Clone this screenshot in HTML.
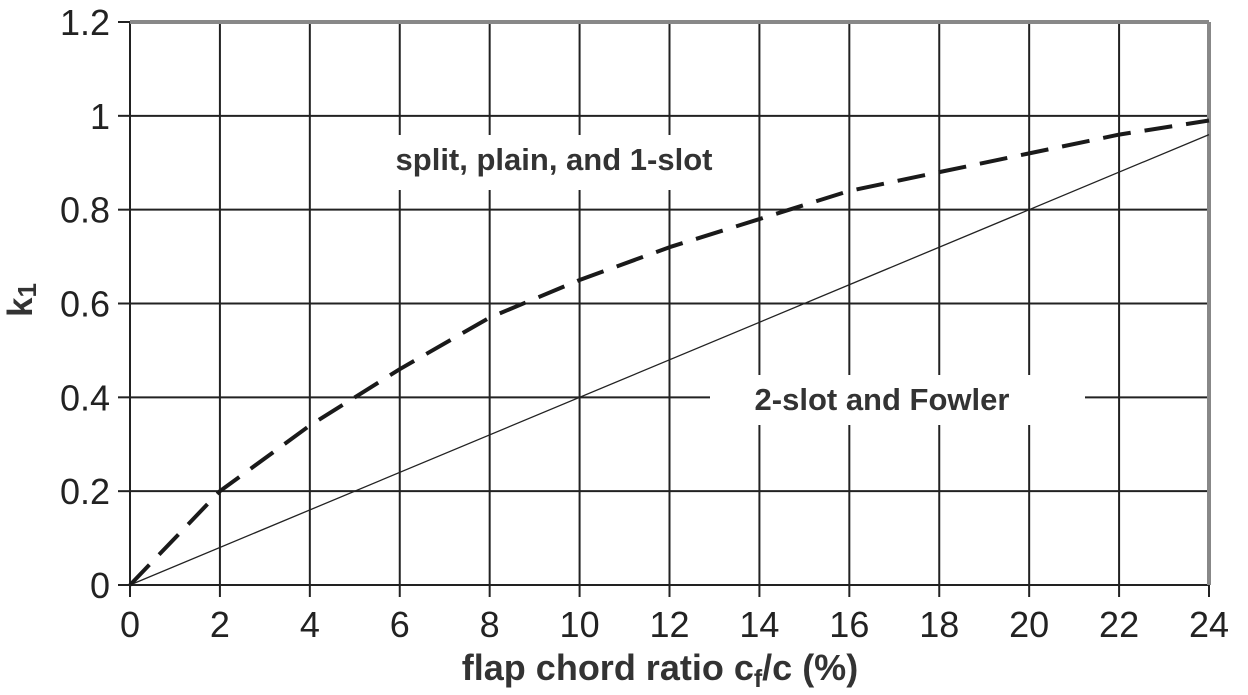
<!DOCTYPE html>
<html><head><meta charset="utf-8"><style>
html,body{margin:0;padding:0;background:#fff;}
svg{display:block;font-family:"Liberation Sans",Arial,sans-serif;}
</style></head><body>
<svg id="chart" width="1248" height="695" viewBox="0 0 1248 695" xmlns="http://www.w3.org/2000/svg">
<g id="grid"></g>
<g id="ticks"></g>
<g id="series"></g>
<g id="labels"></g>
</svg>
<script>
const xTicks = [0,2,4,6,8,10,12,14,16,18,20,22,24];
const yTicks = [0,0.2,0.4,0.6,0.8,1,1.2];
const yTickLabels = ["0","0.2","0.4","0.6","0.8","1","1.2"];
const dashedX = [0,2,4,6,8,10,12,14,16,18,20,22,24];
const dashedY = [0,0.2,0.34,0.46,0.57,0.65,0.72,0.78,0.84,0.88,0.92,0.96,0.99];
const solidX = [0,24];
const solidY = [0,0.96];

const X0=130, X1=1209, Y0=585, Y1=22;
const sx = v => X0 + (v/24)*(X1-X0);
const sy = v => Y0 - (v/1.2)*(Y0-Y1);
const NS="http://www.w3.org/2000/svg";
function mk(tag, attrs, parent){const e=document.createElementNS(NS,tag);for(const k in attrs)e.setAttribute(k,attrs[k]);parent.appendChild(e);return e;}
const gGrid=document.getElementById('grid'), gTicks=document.getElementById('ticks'), gSeries=document.getElementById('series'), gLabels=document.getElementById('labels');

xTicks.forEach(t=>{
  const l=mk('line',{x1:sx(t),x2:sx(t),y1:Y1,y2:Y0,stroke:'#222','stroke-width':2},gGrid);
  
  
  const tk=mk('line',{x1:sx(t),x2:sx(t),y1:Y0,y2:Y0+12,stroke:'#222','stroke-width':2},gTicks);
  
  
  const tx=mk('text',{x:sx(t),y:637,'text-anchor':'middle','font-size':36,fill:'#222'},gTicks);
  tx.textContent=String(t);
  
  
});
yTicks.forEach((t,i)=>{
  const l=mk('line',{x1:X0,x2:X1,y1:sy(t),y2:sy(t),stroke:'#222','stroke-width':2},gGrid);
  
  
  const tk=mk('line',{x1:X0-12,x2:X0,y1:sy(t),y2:sy(t),stroke:'#222','stroke-width':2},gTicks);
  
  
  const tx=mk('text',{x:110,y:sy(t)+13,'text-anchor':'end','font-size':36,fill:'#222'},gTicks);
  tx.textContent=yTickLabels[i];
  
  
});
const borderTop=mk('line',{x1:X0,x2:X1,y1:Y1,y2:Y1,stroke:'#888','stroke-width':4},gGrid);


const borderRight=mk('line',{x1:X1,x2:X1,y1:Y1,y2:Y0,stroke:'#888','stroke-width':4},gGrid);



const bg1=mk('rect',{x:380,y:135,width:348,height:55,fill:'#fff'},gLabels);


const bg2=mk('rect',{x:710,y:375,width:375,height:50,fill:'#fff'},gLabels);



const sp=mk('polyline',{points:solidX.map((x,i)=>sx(x)+','+sy(solidY[i])).join(' '),fill:'none',stroke:'#222','stroke-width':1.3},gSeries);


const dp=mk('path',{d:'M'+dashedX.map((x,i)=>sx(x)+','+sy(dashedY[i])).join(' L'),fill:'none',stroke:'#1a1a1a','stroke-width':4,'stroke-dasharray':'28,14','stroke-linejoin':'round'},gSeries);



const t1=mk('text',{x:554,y:170,'text-anchor':'middle','font-size':31,'font-weight':'bold',fill:'#333'},gLabels);
t1.textContent='split, plain, and 1-slot';


const t2=mk('text',{x:882,y:410,'text-anchor':'middle','font-size':31,'font-weight':'bold',fill:'#333'},gLabels);
t2.textContent='2-slot and Fowler';



const xt=mk('text',{x:660,y:680,'text-anchor':'middle','font-size':36,'font-weight':'bold',fill:'#333'},gLabels);
xt.innerHTML='flap chord ratio c<tspan font-size="25" dy="7">f</tspan><tspan dy="-7">/c (%)</tspan>';


const yt=mk('text',{x:0,y:0,'text-anchor':'middle','font-size':35,'font-weight':'bold',fill:'#333',transform:'translate(32,300) rotate(-90)'},gLabels);
yt.innerHTML='k<tspan font-size="26" dy="4">1</tspan>';


</script>
</body></html>
